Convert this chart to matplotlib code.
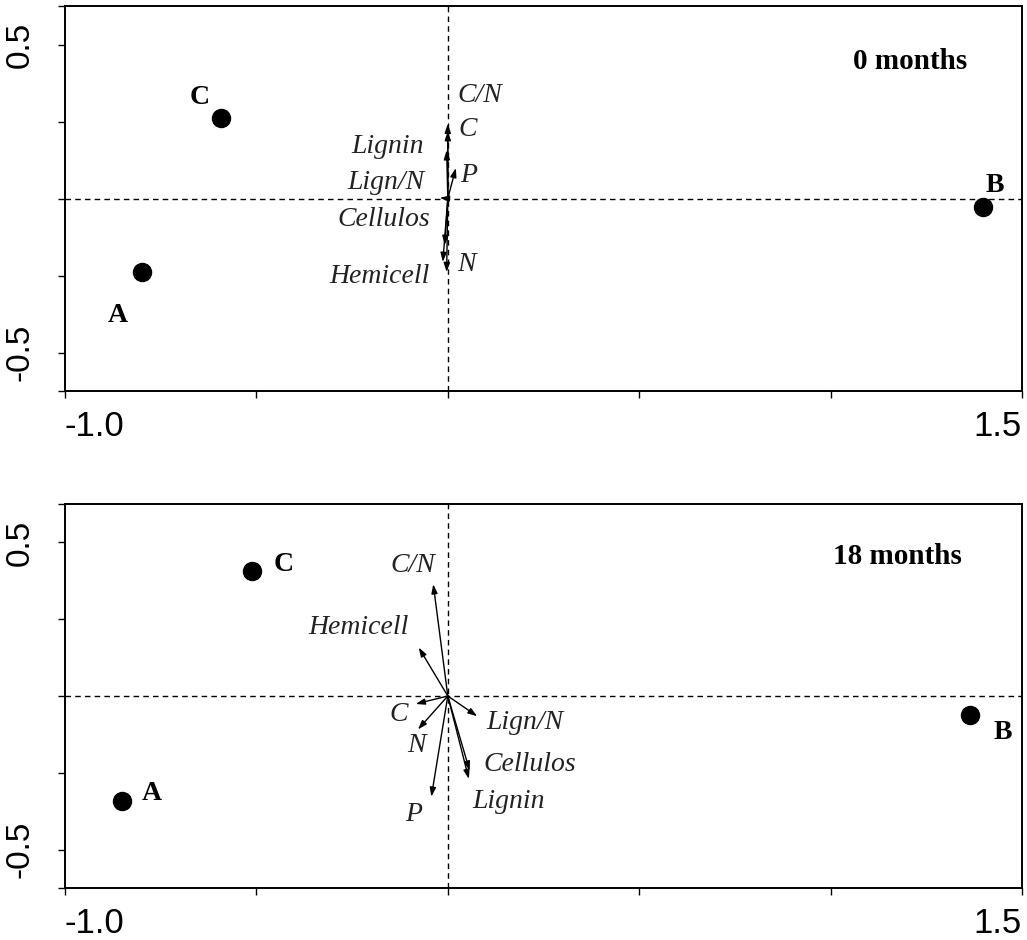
import numpy as np
import matplotlib
matplotlib.use('Agg')
import matplotlib.pyplot as plt

# Site scores (points) for each sampling time
sites = ['A', 'B', 'C']
sites_x_0 = [-0.799, 1.397, -0.593]
sites_y_0 = [-0.239, -0.028, 0.261]
sites_x_18 = [-0.851, 1.363, -0.512]
sites_y_18 = [-0.341, -0.062, 0.406]

# Variable vectors (arrow tips)
vars_0 = ['C/N', 'C', 'Lignin', 'Lign/N', 'P', 'Cellulos', 'Hemicell', 'N']
vec_x_0 = [0.000, 0.000, -0.003, -0.021, 0.021, -0.008, -0.013, -0.003]
vec_y_0 = [0.243, 0.219, 0.157, 0.002, 0.099, -0.151, -0.206, -0.239]

vars_18 = ['C/N', 'Hemicell', 'C', 'N', 'P', 'Lign/N', 'Cellulos', 'Lignin']
vec_x_18 = [-0.038, -0.076, -0.084, -0.078, -0.043, 0.077, 0.057, 0.055]
vec_y_18 = [0.364, 0.158, -0.026, -0.109, -0.328, -0.066, -0.243, -0.270]

# label placement, pixel offsets from the arrow tip / point
lab_off_0 = {'C/N': (32, 28), 'C': (20, 2), 'Lignin': (-59, 4), 'Lign/N': (-54, 15),
             'P': (13, -7), 'Cellulos': (-61, 26), 'Hemicell': (-63, -15), 'N': (20, 8)}
lab_off_18 = {'C/N': (-20, 19), 'Hemicell': (-60, 20), 'C': (-17, -11), 'N': (-1, -16),
              'P': (-18, -18), 'Lign/N': (48, -6), 'Cellulos': (60, 6), 'Lignin': (40, -23)}
site_off_0 = {'A': (-24, -43), 'B': (12, 22), 'C': (-21, 21)}
site_off_18 = {'A': (30, 7), 'B': (33, -17), 'C': (32, 7)}

W, H = 1027, 940
fig = plt.figure(figsize=(W / 100, H / 100), dpi=100)

serif = 'Liberation Serif'
sans = 'Liberation Sans'


def panel(rect, sx, sy, vnames, vx, vy, voff, soff, title, title_pos):
    ax = fig.add_axes(rect)
    ax.set_xlim(-1.0, 1.5)
    ax.set_ylim(-0.625, 0.625)
    ax.axhline(0, color='black', lw=1.0, dashes=(4, 3), zorder=1)
    ax.axvline(0, color='black', lw=1.0, dashes=(4, 3), zorder=1)

    ax.plot(sx, sy, 'o', color='black', ms=13, zorder=3)
    for name, x, y in zip(sites, sx, sy):
        ax.annotate(name, (x, y), xytext=soff[name], textcoords='offset pixels',
                    ha='center', va='center', fontsize=20, fontweight='bold',
                    family=serif)

    for name, x, y in zip(vnames, vx, vy):
        ax.annotate('', xy=(x, y), xytext=(0, 0),
                    arrowprops=dict(arrowstyle='-|>,head_length=0.45,head_width=0.15',
                                    color='black', lw=1.0, shrinkA=0, shrinkB=0,
                                    mutation_scale=12))
        ax.annotate(name, (x, y), xytext=voff[name], textcoords='offset pixels',
                    ha='center', va='center', fontsize=20, style='italic',
                    family=serif, color='#222222')

    ax.text(title_pos[0], title_pos[1], title, transform=ax.transAxes,
            ha='left', va='center', fontsize=21, fontweight='bold', family=serif)

    for s in ax.spines.values():
        s.set_linewidth(1.4)
    ax.set_xticks([-1.0, -0.5, 0, 0.5, 1.0, 1.5])
    ax.set_xticklabels(['-1.0', '', '', '', '', '1.5'], family=sans, fontsize=25)
    xl = ax.get_xticklabels()
    xl[0].set_ha('left')
    xl[-1].set_ha('right')
    ax.set_yticks([-0.625, -0.5, -0.25, 0, 0.25, 0.5, 0.625])
    ax.set_yticklabels(['', '-0.5', '', '', '', '0.5', ''], family=sans, fontsize=24,
                       rotation=90, va='center')
    ax.tick_params(axis='x', length=5, width=1.0, pad=9)
    ax.tick_params(axis='y', length=5, width=1.0, pad=16)
    return ax


panel([65 / W, 1 - 391 / H, 957 / W, 385 / H], sites_x_0, sites_y_0,
      vars_0, vec_x_0, vec_y_0, lab_off_0, site_off_0, '0 months', (0.823, 0.855))
panel([65 / W, 1 - 888 / H, 957 / W, 384 / H], sites_x_18, sites_y_18,
      vars_18, vec_x_18, vec_y_18, lab_off_18, site_off_18, '18 months', (0.803, 0.862))

fig.savefig('out.png', dpi=100)
